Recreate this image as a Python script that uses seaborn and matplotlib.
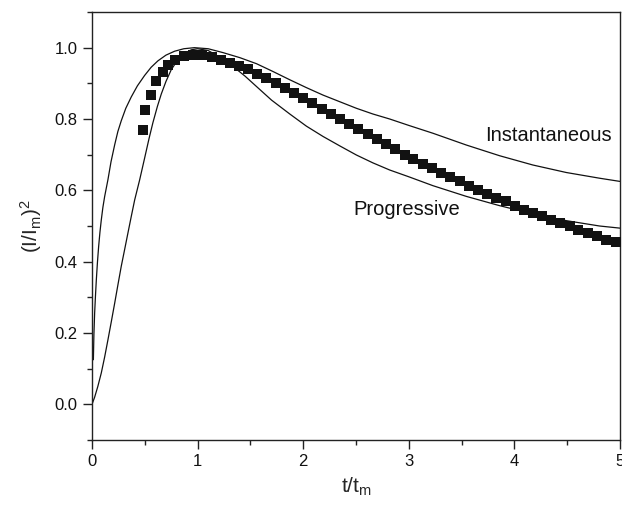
import numpy as np
import pandas as pd
import matplotlib
matplotlib.use("Agg")
import matplotlib.pyplot as plt
from matplotlib.ticker import MultipleLocator
import seaborn as sns

t_exp = [0.479, 0.503, 0.555, 0.607, 0.668, 0.720, 0.784, 0.871, 0.958, 1.045,
         1.132, 1.219, 1.306, 1.394, 1.479, 1.567, 1.652, 1.741, 1.826, 1.914,
         2.000, 2.088, 2.176, 2.261, 2.346, 2.434, 2.523, 2.611, 2.699, 2.788,
         2.873, 2.961, 3.040, 3.135, 3.220, 3.308, 3.393, 3.482, 3.567, 3.655,
         3.740, 3.828, 3.917, 4.002, 4.087, 4.175, 4.261, 4.349, 4.434, 4.522,
         4.607, 4.696, 4.781, 4.869, 4.958]
i_exp = [0.770, 0.824, 0.868, 0.906, 0.932, 0.952, 0.966, 0.976, 0.980, 0.979,
         0.973, 0.966, 0.958, 0.949, 0.939, 0.926, 0.914, 0.900, 0.886, 0.874,
         0.860, 0.846, 0.829, 0.814, 0.799, 0.785, 0.771, 0.757, 0.743, 0.729,
         0.715, 0.700, 0.688, 0.674, 0.662, 0.650, 0.637, 0.625, 0.611, 0.601,
         0.590, 0.578, 0.569, 0.557, 0.545, 0.536, 0.527, 0.517, 0.508, 0.499,
         0.489, 0.480, 0.471, 0.461, 0.454]

# instantaneous curve
t_inst = [0.013, 0.018, 0.025, 0.033, 0.041, 0.052, 0.063, 0.075, 0.088, 0.103,
          0.120, 0.151, 0.180, 0.215, 0.245, 0.277, 0.320, 0.372, 0.430, 0.498,
          0.560, 0.624, 0.700, 0.782, 0.870, 0.970, 1.100, 1.242, 1.400, 1.558,
          1.715, 1.873, 2.030, 2.188, 2.350, 2.504, 2.660, 2.819, 3.000, 3.229,
          3.545, 3.860, 4.175, 4.491, 4.806, 5.000]
i_inst = [0.125, 0.195, 0.256, 0.305, 0.349, 0.400, 0.443, 0.482, 0.517, 0.552,
          0.583, 0.630, 0.680, 0.728, 0.765, 0.795, 0.830, 0.862, 0.893, 0.922,
          0.945, 0.963, 0.979, 0.990, 0.997, 1.000, 0.997, 0.986, 0.972, 0.955,
          0.933, 0.910, 0.888, 0.867, 0.848, 0.830, 0.814, 0.800, 0.782, 0.760,
          0.727, 0.697, 0.671, 0.650, 0.634, 0.625]

# progressive curve
t_prog = [0.000, 0.025, 0.055, 0.088, 0.120, 0.151, 0.183, 0.215, 0.246, 0.277,
          0.309, 0.340, 0.372, 0.404, 0.451, 0.498, 0.540, 0.577, 0.620, 0.656,
          0.700, 0.750, 0.810, 0.877, 0.940, 1.000, 1.100, 1.200, 1.337, 1.450,
          1.558, 1.700, 1.873, 2.030, 2.188, 2.350, 2.504, 2.660, 2.819, 3.000,
          3.229, 3.545, 3.860, 4.175, 4.491, 4.806, 5.000]
i_prog = [0.000, 0.020, 0.050, 0.088, 0.133, 0.181, 0.232, 0.284, 0.336, 0.387,
          0.434, 0.480, 0.527, 0.573, 0.629, 0.690, 0.745, 0.790, 0.836, 0.870,
          0.905, 0.938, 0.965, 0.984, 0.994, 0.997, 0.992, 0.975, 0.947, 0.920,
          0.891, 0.853, 0.814, 0.780, 0.751, 0.724, 0.699, 0.677, 0.657, 0.638,
          0.613, 0.583, 0.557, 0.534, 0.515, 0.500, 0.494]

sns.set_style("ticks")
plt.rcParams["font.family"] = ["Liberation Sans", "DejaVu Sans"]
plt.rcParams["mathtext.default"] = "regular"

fig = plt.figure(figsize=(6.22, 5.07), dpi=100)
ax = fig.add_axes([92 / 622, 1 - 440 / 507, 528 / 622, 428 / 507])

df_inst = pd.DataFrame({"t": t_inst, "i": i_inst})
df_prog = pd.DataFrame({"t": t_prog, "i": i_prog})
df_exp = pd.DataFrame({"t": t_exp, "i": i_exp})

sns.lineplot(data=df_inst, x="t", y="i", color="#111111", linewidth=0.9, ax=ax)
sns.lineplot(data=df_prog, x="t", y="i", color="#111111", linewidth=0.9, ax=ax)
sns.scatterplot(data=df_exp, x="t", y="i", marker="s", s=44, color="#121212",
                linewidth=0, ax=ax, zorder=3)

ax.set_xlim(0, 5)
ax.set_ylim(-0.1, 1.1)
ax.xaxis.set_major_locator(MultipleLocator(1))
ax.xaxis.set_minor_locator(MultipleLocator(0.5))
ax.yaxis.set_minor_locator(MultipleLocator(0.1))
ax.set_yticks(np.arange(0, 1.01, 0.2))
ax.set_yticklabels([f"{v:.1f}" for v in np.arange(0, 1.01, 0.2)])

ax.tick_params(which="major", direction="out", length=6.2, width=1.0,
               labelsize=12, pad=4, color="#222222", labelcolor="#111111")
ax.tick_params(which="minor", direction="out", length=3.3, width=1.0,
               color="#222222")
for side in ["left", "right", "top", "bottom"]:
    ax.spines[side].set_visible(True)
    ax.spines[side].set_linewidth(1.0)
    ax.spines[side].set_color("#222222")

ax.set_xlabel(r"$t/t_m$", fontsize=15, labelpad=5)
ax.set_ylabel(r"$(I/I_m)^2$", fontsize=15, labelpad=8)

ax.text(3.72, 0.755, "Instantaneous", fontsize=14.5, ha="left", va="center",
        color="#111111")
ax.text(2.476, 0.545, "Progressive", fontsize=14.5, ha="left", va="center",
        color="#111111")

fig.savefig("out.png", dpi=100)
